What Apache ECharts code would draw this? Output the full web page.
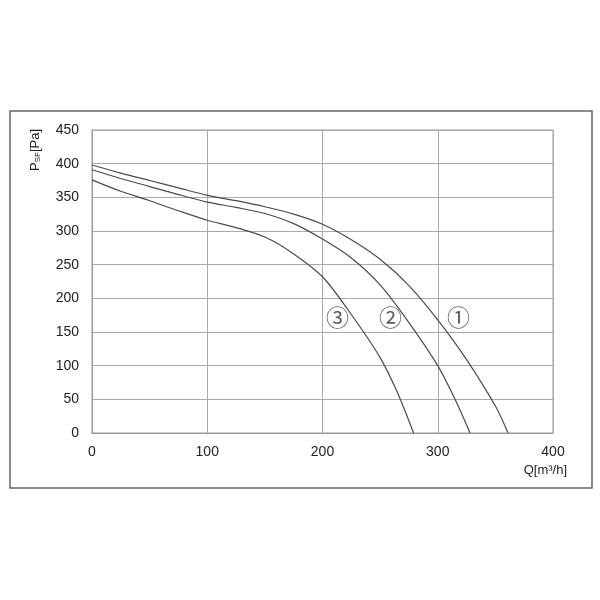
<!DOCTYPE html>
<html><head><meta charset="utf-8">
<script src="https://cdn.jsdelivr.net/npm/echarts@6/dist/echarts.min.js"></script>
<style>html,body{margin:0;padding:0;background:#fff}#c{width:600px;height:600px}</style>
</head><body><div id="c"></div>
<script>
// Curve ① (Q [m3/h], Psf [Pa])
const curve1 = [[0,398],[25,386],[50,375],[75,364],[100,353],[125,345],[150,336],[175,325],[200,310],[225,287],[250,258],[275,219],[300,168],[325,109],[350,40],[361,0]];
// Curve ②
const curve2 = [[0,391],[25,378],[50,366],[75,354],[100,343],[125,335],[150,326],[175,311],[200,288],[225,260],[250,220],[275,164],[300,100],[315,50],[328,0]];
// Curve ③
const curve3 = [[0,376],[25,359],[50,345],[75,330],[100,316],[125,305],[150,291],[175,266],[200,232],[225,176],[250,112],[265,60],[279,0]];
// Curve labels and their positions
const curveNames = ['①','②','③'];
const labelPos = [[318,168],[259,168],[213,168]];
const xTicks = [0,100,200,300,400];
const yTicks = [0,50,100,150,200,250,300,350,400,450];

const chart = echarts.init(document.getElementById('c'), null, {renderer:'canvas'});
const lineStyle = {color:'#4a4a4a', width:1.2};
const series = [curve1, curve2, curve3].map(d => ({
  type:'line', data:d, smooth:0.3, symbol:'none', lineStyle:lineStyle, silent:true
}));
series.push({
  type:'scatter', symbolSize:0, silent:true,
  data: labelPos.map((p,i)=>({value:p, name:curveNames[i]})),
  label:{show:true, position:'inside', formatter:p=>p.name, fontFamily:'DejaVu Serif, Noto Sans CJK JP', fontSize:23, color:'#333'}
});
chart.setOption({
  animation:false,
  backgroundColor:'#fff',
  grid:{left:92, right:47, top:130, bottom:167, show:true, borderColor:'#999', borderWidth:1},
  xAxis:{type:'value', min:0, max:400, interval:100,
    axisLine:{lineStyle:{color:'#999'}}, axisTick:{show:false},
    axisLabel:{color:'#222', fontSize:14, fontFamily:'Liberation Sans', margin:12},
    splitLine:{show:true, lineStyle:{color:'#aaa', width:1}}},
  yAxis:{type:'value', min:0, max:450, interval:50,
    axisLine:{show:true, lineStyle:{color:'#999'}}, axisTick:{show:false},
    axisLabel:{color:'#222', fontSize:14, fontFamily:'Liberation Sans', margin:13},
    splitLine:{show:true, lineStyle:{color:'#aaa', width:1}}},
  graphic:[
    {type:'rect', shape:{x:10, y:111, width:582, height:377}, style:{fill:'none', stroke:'#666', lineWidth:1.5}, z:-1},
    {type:'text', x:35, y:150, rotation:Math.PI/2,
      style:{text:'{a|P}{b|SF}{a|[Pa]}', rich:{a:{fontSize:13, fontFamily:'Liberation Sans', fill:'#222'}, b:{fontSize:8, fontFamily:'Liberation Sans', fill:'#222', verticalAlign:'bottom', padding:[6,0,0,0]}}, align:'center', verticalAlign:'middle'}},
    {type:'text', x:567, y:470, style:{text:'Q[m³/h]', fontSize:13, fontFamily:'Liberation Sans', fill:'#222', align:'right', verticalAlign:'middle'}}
  ],
  series:series
});
</script></body></html>
